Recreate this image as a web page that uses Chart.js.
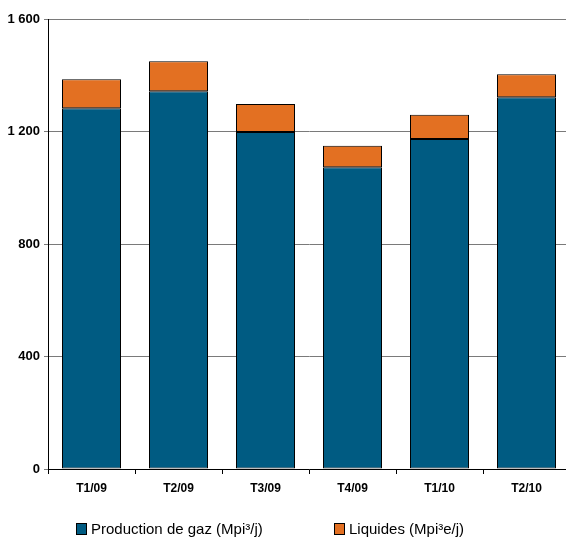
<!DOCTYPE html>
<html>
<head>
<meta charset="utf-8">
<title>Production</title>
<script src="https://cdn.jsdelivr.net/npm/chart.js@4.4.1/dist/chart.umd.min.js"></script>
<style>
  html, body { margin: 0; padding: 0; background: #fff; overflow: hidden; width: 566px; height: 538px; }
  #wrap { position: relative; width: 566px; height: 538px; overflow: hidden; }
  #c { position: absolute; left: 0; top: 0; }
  #legend { position: absolute; left: 0; top: 520px; width: 566px; height: 17px;
            font-family: "Liberation Sans", Arial, sans-serif; font-size: 15px; color: #000; }
  .item { position: absolute; top: 0; height: 17px; display: flex; align-items: center; white-space: nowrap; }
  .box { width: 9px; height: 10px; border: 1px solid #000; margin-right: 4px; box-sizing: content-box; }
</style>
</head>
<body>
<div id="wrap">
  <canvas id="c" width="570" height="538"></canvas>
  <div id="legend"></div>
</div>
<script>
// Quarterly production, stacked: gas + liquids
const quarters = ['T1/09', 'T2/09', 'T3/09', 'T4/09', 'T1/10', 'T2/10'];
const gasProduction = [1283, 1343, 1198, 1073, 1173, 1322];
const liquids = [103, 107, 100, 76, 87, 82];
const yTickLabels = ['0', '400', '800', '1 200', '1 600'];
const seriesNames = ['Production de gaz (Mpi\u00B3/j)', 'Liquides (Mpi\u00B3e/j)'];
const seriesColors = ['#005B82', '#E37022'];

const FONT = '"Liberation Sans", Arial, sans-serif';

const chart = new Chart(document.getElementById('c'), {
  type: 'bar',
  data: {
    labels: quarters,
    datasets: [
      { label: seriesNames[0], data: gasProduction, backgroundColor: seriesColors[0],
        borderColor: '#000', borderWidth: 1, borderSkipped: false },
      { label: seriesNames[1], data: liquids, backgroundColor: seriesColors[1],
        borderColor: '#000', borderWidth: 1, borderSkipped: false }
    ]
  },
  options: {
    responsive: false,
    animation: false,
    devicePixelRatio: 1,
    layout: { padding: { top: 19, left: 0, right: 0, bottom: 27 } },
    // 59 px bars in 87 px category slots
    datasets: { bar: { categoryPercentage: 1, barPercentage: 59 / 87 } },
    plugins: { legend: { display: false }, tooltip: { enabled: false } },
    scales: {
      x: {
        stacked: true,
        offset: true,
        grid: { display: true, offset: true, drawOnChartArea: false, drawTicks: true,
                tickLength: 5, color: '#000' },
        border: { display: true, color: '#000', width: 1 },
        ticks: { color: '#000', font: { family: FONT, size: 12, weight: 'bold' },
                 padding: 7, maxRotation: 0 },
        afterFit: s => { s.height = 42; }
      },
      y: {
        stacked: true,
        min: 0,
        max: 1600,
        grid: { color: '#7a7a7a', lineWidth: 1, drawTicks: true, tickLength: 4 },
        border: { display: true, color: '#000', width: 1 },
        ticks: { stepSize: 400, color: '#000', padding: 4,
                 font: { family: FONT, size: 13, weight: 'bold' },
                 callback: (v, i) => yTickLabels[i] },
        afterFit: s => { s.width = 48; }
      }
    }
  }
});

// HTML legend built from the chart's datasets
const legendLefts = [76, 334];
const legendEl = document.getElementById('legend');
chart.data.datasets.forEach((ds, i) => {
  const item = document.createElement('div');
  item.className = 'item';
  item.style.left = legendLefts[i] + 'px';
  const box = document.createElement('span');
  box.className = 'box';
  box.style.background = ds.backgroundColor;
  const txt = document.createElement('span');
  txt.textContent = ds.label;
  item.appendChild(box);
  item.appendChild(txt);
  legendEl.appendChild(item);
});
</script>
</body>
</html>
